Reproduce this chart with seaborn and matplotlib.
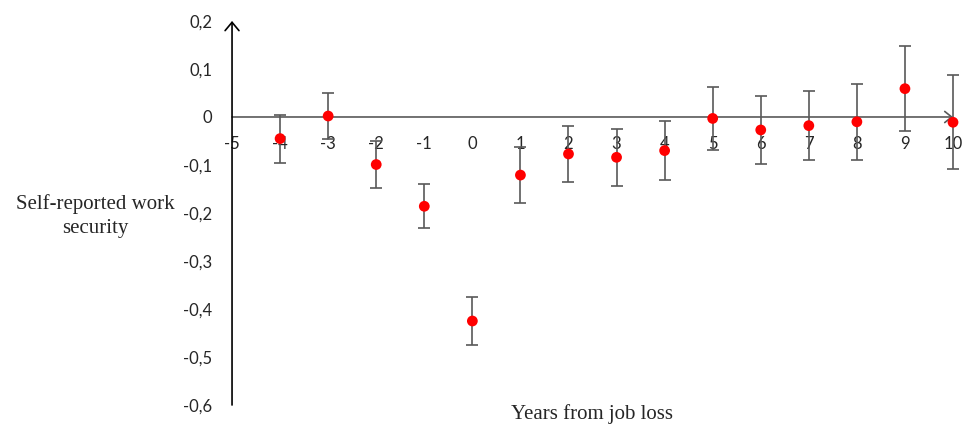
import numpy as np
import pandas as pd
import matplotlib
matplotlib.use("Agg")
import matplotlib.pyplot as plt
import seaborn as sns

# Data
years = [-4, -3, -2, -1, 0, 1, 2, 3, 4, 5, 6, 7, 8, 9, 10]
effect = [-0.045, 0.002, -0.099, -0.186, -0.425, -0.121, -0.077, -0.084,
          -0.070, -0.003, -0.027, -0.018, -0.010, 0.059, -0.011]
ci_half = [0.050, 0.047, 0.048, 0.046, 0.050, 0.059, 0.058, 0.060,
           0.062, 0.065, 0.070, 0.072, 0.079, 0.088, 0.098]

x_ticks = list(range(-5, 11))
x_tick_labels = [str(v) for v in x_ticks]
y_ticks = [-0.6, -0.5, -0.4, -0.3, -0.2, -0.1, 0.0, 0.1, 0.2]
y_tick_labels = ["-0,6", "-0,5", "-0,4", "-0,3", "-0,2", "-0,1", "0", "0,1", "0,2"]

df = pd.DataFrame({"year": years, "effect": effect, "ci": ci_half})

sns.set_style("white")
plt.rcParams["font.family"] = ["Lato", "DejaVu Sans"]

fig = plt.figure(figsize=(9.64, 4.30), dpi=100)
ax = fig.add_axes([0.2407, 0.0581, 0.9886 - 0.2407, 0.9512 - 0.0581])

# Error bars then the red points
ax.errorbar(df["year"], df["effect"], yerr=df["ci"], fmt="none",
            ecolor="#595959", elinewidth=1.2, capsize=4, capthick=1.2,
            zorder=2, clip_on=False)
sns.scatterplot(data=df, x="year", y="effect", ax=ax, color="#ff0000",
                s=60, edgecolor="none", zorder=3, clip_on=False, legend=False)

ax.set_xlim(-5, 10)
ax.set_ylim(-0.6, 0.2)

# Axes crossing at the origin, drawn as arrows
for side in ["top", "right", "left", "bottom"]:
    ax.spines[side].set_visible(False)
ax.spines["bottom"].set_position(("data", 0))
ax.annotate("", xy=(-5, 0.2), xytext=(-5, -0.6),
            arrowprops=dict(arrowstyle="->,head_length=0.6,head_width=0.5",
                            color="black", lw=1.2, shrinkA=0, shrinkB=0),
            annotation_clip=False)
ax.annotate("", xy=(10, 0), xytext=(-5, 0),
            arrowprops=dict(arrowstyle="->,head_length=0.5,head_width=0.4",
                            color="#595959", lw=1.2, shrinkA=0, shrinkB=0),
            annotation_clip=False, zorder=1)

ax.set_xticks(x_ticks)
ax.set_xticklabels(x_tick_labels)
ax.set_yticks(y_ticks)
ax.set_yticklabels(y_tick_labels)
ax.tick_params(axis="x", length=0, pad=14, labelsize=12, colors="#262626")
ax.tick_params(axis="y", length=0, pad=14, labelsize=12, colors="#262626")
ax.set_xlabel("")
ax.set_ylabel("")

fig.text(95 / 964, 1 - 216 / 430, "Self-reported work\nsecurity",
         family="Liberation Serif", fontsize=15, ha="center", va="center",
         multialignment="center", linespacing=1.35, color="#262626")
fig.text(592 / 964, 1 - 414 / 430, "Years from job loss",
         family="Liberation Serif", fontsize=15, ha="center", va="center",
         color="#262626")

fig.savefig("out.png", dpi=100)
